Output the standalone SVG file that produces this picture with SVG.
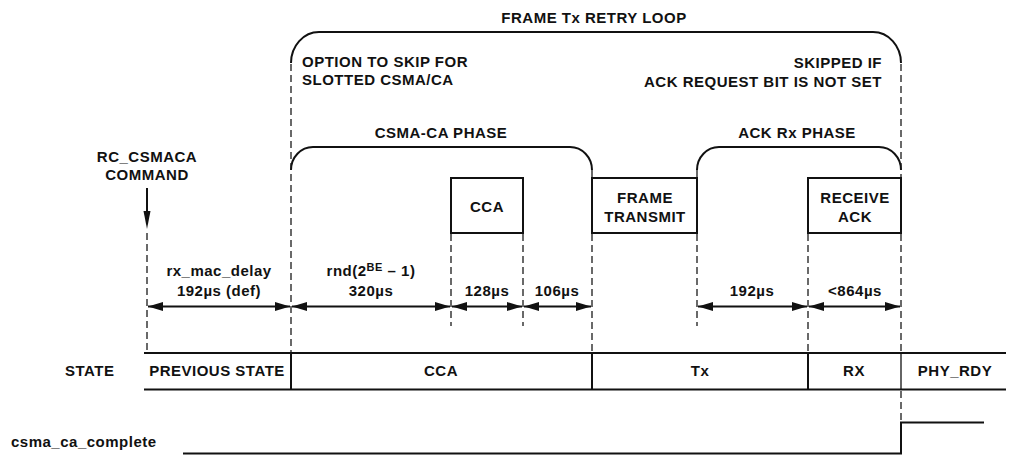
<svg xmlns="http://www.w3.org/2000/svg" width="1010" height="455" viewBox="0 0 1010 455">
<style>
text{font-family:"Liberation Sans",Arial,sans-serif;font-weight:bold;font-size:15px;letter-spacing:0.5px;fill:#111}
.m{text-anchor:middle}
.e{text-anchor:end}
.box{fill:#fff;stroke:#111;stroke-width:2}
.br{fill:none;stroke:#111;stroke-width:2}
.dash{fill:none;stroke:#1a1a1a;stroke-width:1.3;stroke-dasharray:7 4}
.solid{fill:none;stroke:#111;stroke-width:2}
.thin{fill:none;stroke:#111;stroke-width:1.3}
.arr{fill:none;stroke:#111;stroke-width:2;marker-start:url(#ah);marker-end:url(#ah)}
</style>
<defs>
<marker id="ah" viewBox="0 0 15 9" refX="15" refY="4.5" markerWidth="15" markerHeight="9" markerUnits="userSpaceOnUse" orient="auto-start-reverse">
<path d="M0,0 L15,4.5 L0,9 z" fill="#111"/>
</marker>
</defs>

<g id="frame-retry-loop">
<path class="br" d="M291,63 A28,31 0 0 1 319,32 H873 A28,31 0 0 1 901,63"/>
<text class="m" x="594" y="23">FRAME Tx RETRY LOOP</text>
<text x="302" y="67">OPTION TO SKIP FOR</text>
<text x="302" y="85">SLOTTED CSMA/CA</text>
<text class="e" x="882" y="68">SKIPPED IF</text>
<text class="e" x="882" y="86.5">ACK REQUEST BIT IS NOT SET</text>
</g>

<g id="csma-ca-phase">
<path class="br" d="M291,170 A22,23 0 0 1 313,147 H570 A22,23 0 0 1 592,170"/>
<text class="m" x="441" y="138">CSMA-CA PHASE</text>
</g>

<g id="ack-rx-phase">
<path class="br" d="M697,170 A22,23 0 0 1 719,147 H879 A22,23 0 0 1 901,170"/>
<text class="m" x="797" y="138">ACK Rx PHASE</text>
</g>

<g id="command">
<text class="m" x="147" y="161.5">RC_CSMACA</text>
<text class="m" x="147" y="180">COMMAND</text>
</g>

<g id="connectors">
<line class="solid" x1="147" y1="188" x2="147" y2="213"/>
<path d="M143.5,211 L150.5,211 L147,229 z" fill="#111"/>
<line class="dash" x1="147" y1="233" x2="147" y2="351"/>
<line class="dash" x1="291" y1="64" x2="291" y2="352"/>
<line class="dash" x1="451" y1="234" x2="451" y2="326"/>
<line class="dash" x1="523" y1="234" x2="523" y2="326"/>
<line class="dash" x1="592" y1="170" x2="592" y2="178"/>
<line class="dash" x1="592" y1="234" x2="592" y2="352"/>
<line class="dash" x1="697" y1="170" x2="697" y2="178"/>
<line class="dash" x1="697" y1="234" x2="697" y2="326"/>
<line class="dash" x1="808" y1="234" x2="808" y2="352"/>
<line class="dash" x1="901" y1="64" x2="901" y2="178"/>
<line class="dash" x1="901" y1="234" x2="901" y2="352"/>
<line class="dash" x1="901" y1="391" x2="901" y2="422"/>
<line class="arr" x1="148" y1="306.5" x2="290" y2="306.5"/>
<line class="arr" x1="292" y1="306.5" x2="450" y2="306.5"/>
<line class="arr" x1="452" y1="306.5" x2="522" y2="306.5"/>
<line class="arr" x1="524" y1="306.5" x2="591" y2="306.5"/>
<line class="arr" x1="698" y1="306.5" x2="807" y2="306.5"/>
<line class="arr" x1="809" y1="306.5" x2="900" y2="306.5"/>
</g>

<g id="cca-box">
<rect class="box" x="451" y="178" width="72" height="55"/>
<text class="m" x="487" y="212">CCA</text>
</g>

<g id="frame-transmit-box">
<rect class="box" x="592" y="178" width="105" height="55"/>
<text class="m" x="645" y="202.5">FRAME</text>
<text class="m" x="645" y="221.5">TRANSMIT</text>
</g>

<g id="receive-ack-box">
<rect class="box" x="808" y="178" width="93" height="55"/>
<text class="m" x="855" y="202.5">RECEIVE</text>
<text class="m" x="855" y="221.5">ACK</text>
</g>

<g id="timing-labels">
<text class="m" x="219" y="276">rx_mac_delay</text>
<text class="m" x="219" y="296">192µs (def)</text>
<text class="m" x="371" y="276">rnd(2<tspan font-size="11" dy="-5">BE</tspan><tspan dy="5"> – 1)</tspan></text>
<text class="m" x="371" y="296">320µs</text>
<text class="m" x="487" y="296">128µs</text>
<text class="m" x="557" y="296">106µs</text>
<text class="m" x="752" y="296">192µs</text>
<text class="m" x="855" y="296">&lt;864µs</text>
</g>

<g id="state-bar">
<line class="solid" x1="144" y1="353" x2="1006" y2="353"/>
<line class="solid" x1="144" y1="389.5" x2="1006" y2="389.5"/>
<line class="solid" x1="291" y1="353" x2="291" y2="389.5"/>
<line class="solid" x1="592" y1="353" x2="592" y2="389.5"/>
<line class="solid" x1="808" y1="353" x2="808" y2="389.5"/>
<line class="thin" x1="901" y1="353" x2="901" y2="389.5"/>
<text x="65" y="376">STATE</text>
<text class="m" x="217" y="376">PREVIOUS STATE</text>
<text class="m" x="441" y="376">CCA</text>
<text class="m" x="700" y="376">Tx</text>
<text class="m" x="854" y="376">RX</text>
<text class="m" x="955" y="376">PHY_RDY</text>
</g>

<g id="csma-ca-complete">
<text x="11" y="446.5">csma_ca_complete</text>
<path class="solid" d="M183,453.5 H901 V422.5 H984"/>
</g>
</svg>
